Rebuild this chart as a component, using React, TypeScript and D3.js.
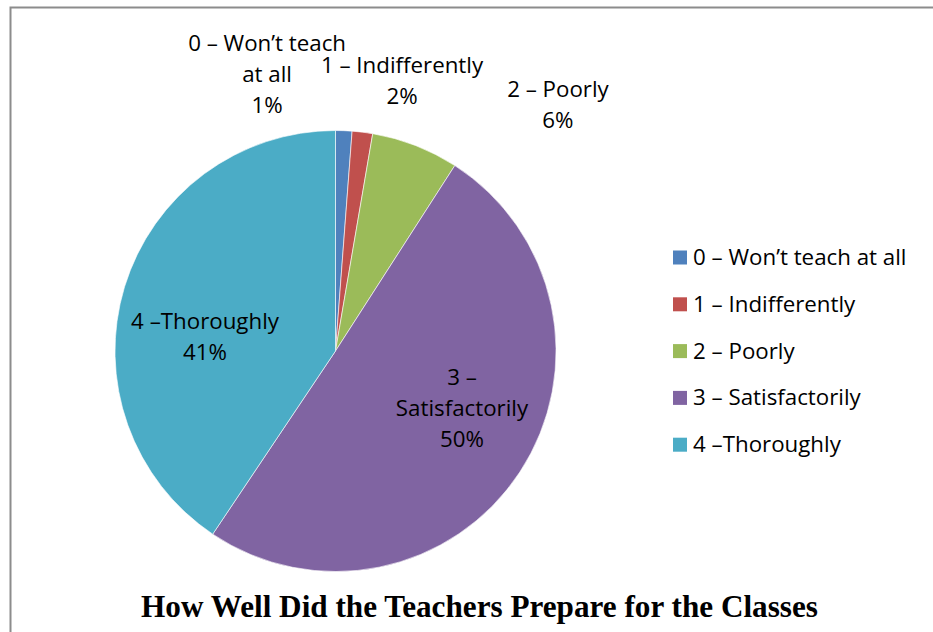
import React from "react";
import * as d3 from "d3";

const categories: string[] = [
  "0 – Won’t teach at all",
  "1 – Indifferently",
  "2 – Poorly",
  "3 – Satisfactorily",
  "4 –Thoroughly",
];
const labelLines: string[][] = [
  ["0 – Won’t teach", "at all"],
  ["1 – Indifferently"],
  ["2 – Poorly"],
  ["3 –", "Satisfactorily"],
  ["4 –Thoroughly"],
];
const values: number[] = [1.2, 1.5, 6.4, 50.3, 40.6];
const colors: string[] = ["#4F81BD", "#C0504D", "#9BBB59", "#8064A2", "#4BACC6"];
const title = "How Well Did the Teachers Prepare for the Classes";

// layout (not data)
const W = 933;
const H = 632;
const CX = 335.5;
const CY = 351;
const R = 220.5;
const LINE = 31;
const FONT = "'Open Sans', Lato, sans-serif";
const FS = 22.3;
// label placement: radius factor + nudge
const labelLayout = [
  { rf: 1.15, dx: -78, dy: -23.6 },
  { rf: 1.15, dx: 35.5, dy: -18.3 },
  { rf: 1.15, dx: 130.6, dy: -9.6 },
  { rf: 0.6, dx: 15.9, dy: -15.6 },
  { rf: 0.6, dx: -3.9, dy: 24 },
];

export default function App() {
  const pie = d3.pie<number>().sort(null).value((d) => d);
  const arcs = pie(values);
  const arcGen = d3.arc<d3.PieArcDatum<number>>().innerRadius(0).outerRadius(R);
  const total = d3.sum(values);
  const fmt = (v: number) => `${Math.round((v / total) * 100)}%`;

  return (
    <div>
      <svg width={W} height={H} style={{ position: "absolute", left: 0, top: 0, background: "#fff" }}>
        <rect x={0} y={0} width={W} height={H} fill="#fff" />
        <path d={`M10.5,${H + 5} V7.5 H${W + 5}`} fill="none" stroke="#8c8c8c" strokeWidth={2} />
        <g transform={`translate(${CX},${CY})`}>
          {arcs.map((a, i) => (
            <path key={i} d={arcGen(a) || ""} fill={colors[i]} stroke="#fff" strokeWidth={0.6} />
          ))}
          {arcs.map((a, i) => {
            const mid = (a.startAngle + a.endAngle) / 2;
            const lr = R * labelLayout[i].rf;
            const x = Math.sin(mid) * lr + labelLayout[i].dx;
            const y = -Math.cos(mid) * lr + labelLayout[i].dy;
            const lines = [...labelLines[i], fmt(values[i])];
            const n = lines.length;
            return (
              <text key={i} textAnchor="middle" fontFamily={FONT} fontSize={FS} fill="#000">
                {lines.map((l, j) => (
                  <tspan key={j} x={x} y={y + (j - (n - 1) / 2) * LINE + 7.5}>
                    {l}
                  </tspan>
                ))}
              </text>
            );
          })}
        </g>
        <g transform="translate(673,250.5)">
          {categories.map((c, i) => (
            <g key={i} transform={`translate(0,${i * 46.8})`}>
              <rect width={14} height={14} fill={colors[i]} />
              <text x={20} y={14.5} fontFamily={FONT} fontSize={FS} fill="#000">
                {c}
              </text>
            </g>
          ))}
        </g>
        <text x={479.5} y={616.5} textAnchor="middle" fontFamily="'Liberation Serif', 'Times New Roman', serif" fontWeight="bold" fontSize={31.2} fill="#000">
          {title}
        </text>
      </svg>
    </div>
  );
}
